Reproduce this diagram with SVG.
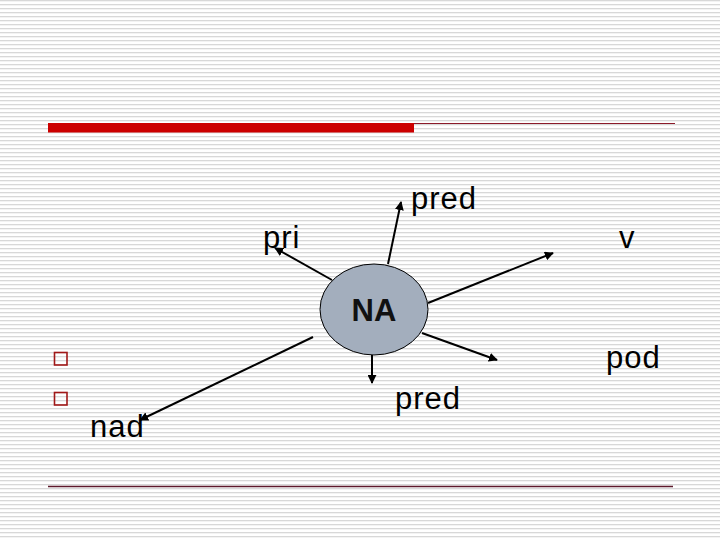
<svg xmlns="http://www.w3.org/2000/svg" width="720" height="540" viewBox="0 0 720 540">
<defs>
<pattern id="stripes" x="0" y="0" width="8" height="4" patternUnits="userSpaceOnUse">
<rect x="0" y="0" width="8" height="4" fill="#ffffff"/>
<rect x="0" y="0" width="8" height="1.3" fill="#d8d8d8"/>
</pattern>
<marker id="arr" viewBox="0 0 10 10" refX="9" refY="5" markerWidth="4.5" markerHeight="4.5" orient="auto" markerUnits="strokeWidth">
<path d="M0,0 L10,5 L0,10 z" fill="#000"/>
</marker>
<style>
.lbl{font-family:"Liberation Sans",Arial,sans-serif;font-size:31px;letter-spacing:1px;fill:#000}
.na{font-family:"Liberation Sans",Arial,sans-serif;font-size:31px;font-weight:bold;fill:#111;text-anchor:middle}
.conn line{stroke:#000;stroke-width:2;marker-end:url(#arr)}
.bullet{fill:none;stroke:#a01818;stroke-width:1.6}
</style>
</defs>
<rect x="0" y="0" width="720" height="540" fill="url(#stripes)"/>
<g id="header">
<rect x="48" y="123" width="366" height="9.5" fill="#cc0000"/>
<line x1="414" y1="123.5" x2="675" y2="123.5" stroke="#8b1a2a" stroke-width="1.2"/>
</g>
<g id="footer">
<line x1="48" y1="486.5" x2="673" y2="486.5" stroke="#5e1a2c" stroke-width="1.4"/>
</g>
<g id="bullets">
<rect class="bullet" x="54.5" y="352.5" width="12.5" height="12.5"/>
<rect class="bullet" x="54.5" y="392.5" width="12.5" height="12.5"/>
</g>
<g class="conn" id="connectors">
<line x1="332" y1="280" x2="275" y2="248"/>
<line x1="388" y1="264" x2="401" y2="202"/>
<line x1="428" y1="303" x2="553" y2="253"/>
<line x1="422" y1="333" x2="497" y2="360"/>
<line x1="372" y1="355" x2="372" y2="383"/>
<line x1="313" y1="337" x2="140" y2="420"/>
</g>
<g id="node-na">
<ellipse cx="374" cy="309.5" rx="54" ry="45.5" fill="#a3aebd" stroke="#000" stroke-width="1"/>
<text class="na" x="374" y="321">NA</text>
</g>
<g id="node-pred-top"><text class="lbl" x="411" y="209">pred</text></g>
<g id="node-pri"><text class="lbl" x="263" y="248">pri</text></g>
<g id="node-v"><text class="lbl" x="619" y="248">v</text></g>
<g id="node-pod"><text class="lbl" x="606" y="368">pod</text></g>
<g id="node-pred-bottom"><text class="lbl" x="395" y="409">pred</text></g>
<g id="node-nad"><text class="lbl" x="90" y="437">nad</text></g>
</svg>
